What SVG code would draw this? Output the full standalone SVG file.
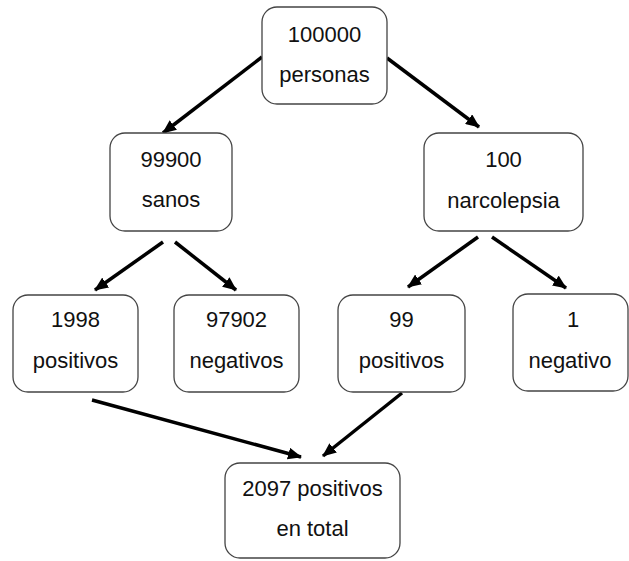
<svg xmlns="http://www.w3.org/2000/svg" width="629" height="561" viewBox="0 0 629 561">
<style>
.box{fill:#fff;stroke:#444;stroke-width:1.3}
.t{font-family:"Liberation Sans",Arial,sans-serif;font-size:22px;fill:#111;text-anchor:middle}
.c{stroke:#000;stroke-width:3.5;fill:none;marker-end:url(#ah)}
</style>
<defs>
<marker id="ah" markerUnits="userSpaceOnUse" markerWidth="14" markerHeight="12" refX="13" refY="6" orient="auto">
<path d="M0,0 L14,6 L0,12 z" fill="#000"/>
</marker>
</defs>
<rect width="629" height="561" fill="#fff"/>
<g id="connectors">
<line class="c" x1="262" y1="57" x2="163" y2="133"/>
<line class="c" x1="387" y1="58" x2="479" y2="127"/>
<line class="c" x1="163" y1="242" x2="95" y2="290"/>
<line class="c" x1="175" y1="242" x2="236" y2="290"/>
<line class="c" x1="478" y1="237" x2="408" y2="287"/>
<line class="c" x1="492" y1="237" x2="566" y2="288"/>
<line class="c" x1="92" y1="400" x2="301" y2="457"/>
<line class="c" x1="402" y1="393" x2="323" y2="456"/>
</g>
<g id="n-personas">
<rect class="box" x="262" y="7" width="125" height="97" rx="15"/>
<text class="t" x="324.5" y="42">100000</text>
<text class="t" x="324.5" y="82">personas</text>
</g>
<g id="n-sanos">
<rect class="box" x="110" y="133" width="122" height="98" rx="15"/>
<text class="t" x="171" y="167">99900</text>
<text class="t" x="171" y="207">sanos</text>
</g>
<g id="n-narcolepsia">
<rect class="box" x="424" y="133" width="159" height="98" rx="15"/>
<text class="t" x="503.5" y="167">100</text>
<text class="t" x="503.5" y="208">narcolepsia</text>
</g>
<g id="n-1998">
<rect class="box" x="13" y="295" width="125" height="97" rx="15"/>
<text class="t" x="75.5" y="327">1998</text>
<text class="t" x="75.5" y="368">positivos</text>
</g>
<g id="n-97902">
<rect class="box" x="174" y="295" width="125" height="97" rx="15"/>
<text class="t" x="236.5" y="327">97902</text>
<text class="t" x="236.5" y="368">negativos</text>
</g>
<g id="n-99">
<rect class="box" x="338" y="295" width="127" height="97" rx="15"/>
<text class="t" x="401.5" y="327">99</text>
<text class="t" x="401.5" y="368">positivos</text>
</g>
<g id="n-1">
<rect class="box" x="513" y="294" width="115" height="97" rx="15"/>
<text class="t" x="573" y="327">1</text>
<text class="t" x="570" y="368">negativo</text>
</g>
<g id="n-total">
<rect class="box" x="225" y="463" width="175" height="95" rx="15"/>
<text class="t" x="312.5" y="496">2097 positivos</text>
<text class="t" x="312.5" y="536">en total</text>
</g>
</svg>
